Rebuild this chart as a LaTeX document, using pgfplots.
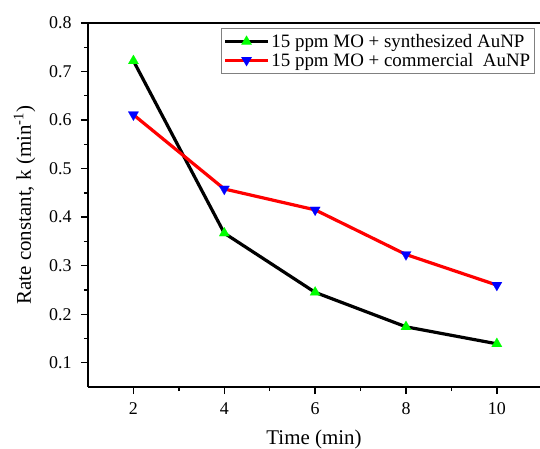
\documentclass[border=0pt]{standalone}
\usepackage{pgfplots}
\pgfplotsset{compat=1.18}
\usepackage{fontspec}
\setmainfont{Liberation Serif}
\begin{document}
\begin{tikzpicture}
\begin{axis}[
  scale only axis,
  width=452bp, height=364bp,
  xmin=1, xmax=10.95,
  ymin=0.05, ymax=0.8,
  axis x line*=bottom, axis y line*=left,
  clip=false,
  xtick={2,4,6,8,10},
  ytick={0.1,0.2,0.3,0.4,0.5,0.6,0.7,0.8},
  minor x tick num=1,
  minor y tick num=1,
  tick align=outside,
  major tick length=7bp,
  minor tick length=4bp,
  axis line style={line width=1.3bp},
  every tick/.style={line width=1.3bp, black},
  /pgf/number format/assume math mode=true,
  yticklabel style={/pgf/number format/fixed, /pgf/number format/precision=1, /pgf/number format/fixed zerofill, xshift=-6bp},
  xticklabel style={yshift=-5bp},
  ticklabel style={font=\fontsize{18}{21}\selectfont},
  xlabel={Time (min)},
  ylabel={Rate constant, k (min\textsuperscript{-1})},
  label style={font=\fontsize{21}{24}\selectfont},
  xlabel style={yshift=-9bp},
  ylabel style={yshift=7bp},
  legend style={at={(1,1)}, anchor=north east, xshift=-5bp, yshift=-5bp,
    draw=gray, line width=0.6bp, font=\fontsize{19}{20}\selectfont,
    inner xsep=2.5bp, inner ysep=4bp, row sep=0bp,
    cells={anchor=west}},
  legend image code/.code={
    \draw[mark repeat=2,mark phase=2,#1] plot coordinates {(0cm,0cm) (0.75cm,0cm) (1.5cm,0cm)};
  },
]
\addplot[black, line width=3.2bp, mark=triangle*, mark size=6bp,
  mark options={draw=green, fill=green, line width=0.1bp}]
  coordinates {(2,0.722) (4,0.367) (6,0.245) (8,0.174) (10,0.139)};
\addlegendentry{15 ppm MO + synthesized AuNP}
\addplot[red, line width=3.2bp, mark=triangle*, mark size=6bp,
  mark options={draw=blue, fill=blue, rotate=180, line width=0.1bp}]
  coordinates {(2,0.611) (4,0.458) (6,0.415) (8,0.323) (10,0.260)};
\addlegendentry{15 ppm MO + commercial\ \ AuNP}
\draw[line width=1.3bp] (rel axis cs:0,1) -- (rel axis cs:1,1);
\coordinate (sw) at (rel axis cs:0,0);
\end{axis}
\pgfresetboundingbox
\path[use as bounding box] ([shift={(-88bp,-62bp)}]sw) rectangle ([shift={(452bp,387bp)}]sw);
\end{tikzpicture}
\end{document}
